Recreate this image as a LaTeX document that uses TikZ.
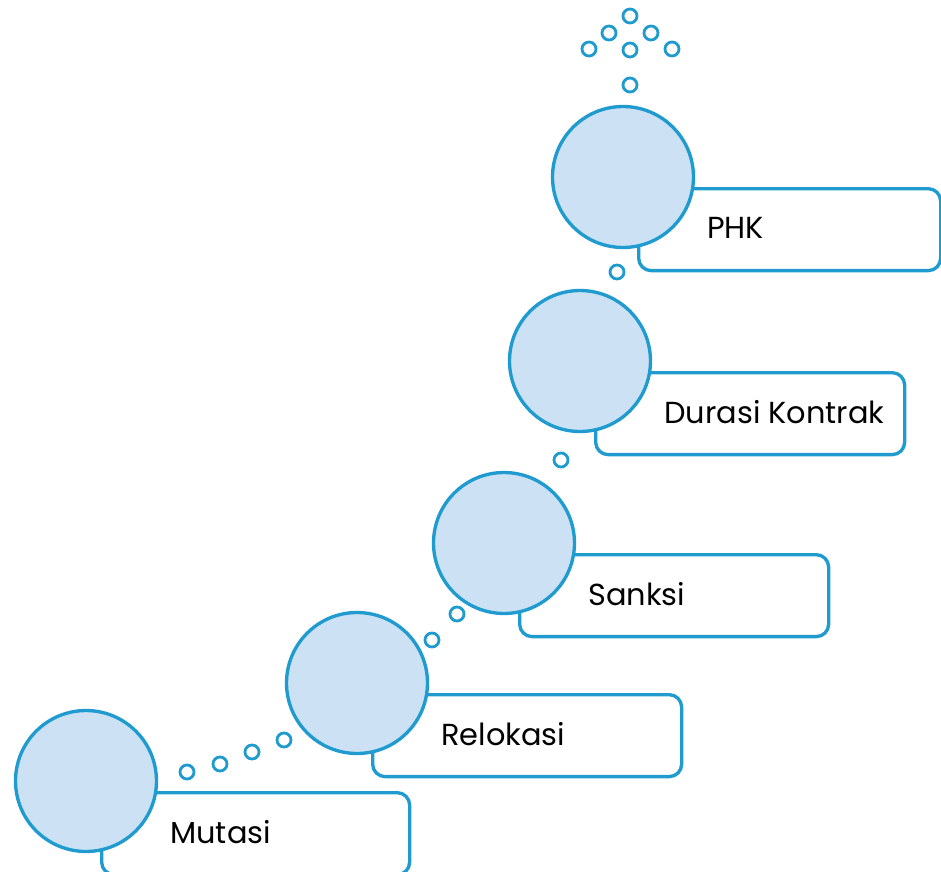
\documentclass[tikz,border=0pt]{standalone}
\usepackage{fontspec}
\setmainfont{Poppins}
\usepackage{tikz}
\usetikzlibrary{calc}
\definecolor{stepblue}{RGB}{31,155,208}
\definecolor{steplight}{RGB}{204,226,244}

\begin{document}
\begin{tikzpicture}[
    x=0.02cm, y=-0.02cm,
    bubble/.style={circle, draw=stepblue, fill=steplight, line width=1.9pt,
    minimum size=2.82cm, inner sep=0pt},
    stepbox/.style={draw=stepblue, line width=1.9pt, rounded corners=0.25cm,
    minimum height=1.64cm, anchor=north west, inner sep=0pt},
    steplabel/.style={anchor=west, inner sep=0pt,
    font=\fontsize{17.3}{21}\selectfont},
    dot/.style={circle, draw=stepblue, line width=1.6pt, minimum size=0.28cm,
    inner sep=0pt}
    ]
    \useasboundingbox (0,0) rectangle (941,872);
    % Boxes and circles
    \foreach \cx/\cy/\bw/\nm/\txt in {86/781/308/mut/Mutasi,
        357/683/309/rel/Relokasi, 504/543/309/san/Sanksi,
        580/361/309/dur/Durasi Kontrak, 623/177/302/phk/PHK}{
        \node[stepbox, minimum width=\bw*0.02cm] (\nm-box) at (\cx+14,\cy+10) {};
        \node[bubble] (\nm) at (\cx,\cy) {};
        \node[steplabel] (\nm-text) at ($(\nm-box.west)+(70,-2)$) {\txt};
    }
    % Small rings
    \foreach \dx/\dy [count=\i] in {630/16, 609/33, 651/33, 589/49, 630/50,
        672/49, 630/85, 617/272, 561/460, 457/614, 432/640, 284/740,
        252/752, 220/764, 187/772}
        \node[dot] (ring\i) at (\dx,\dy) {};
\end{tikzpicture}
\end{document}
